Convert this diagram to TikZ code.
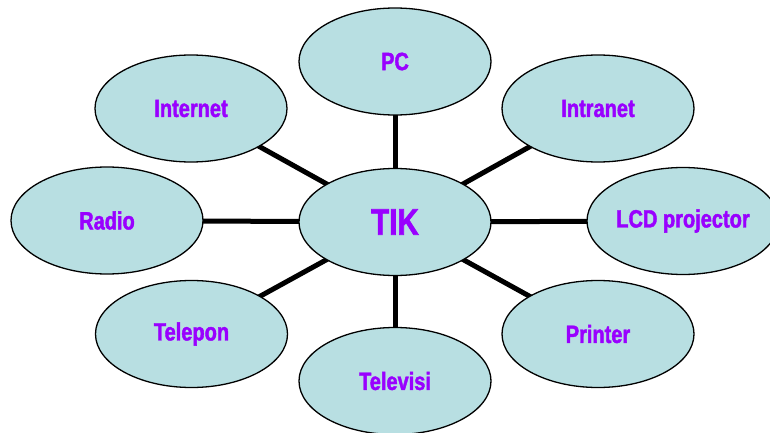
\documentclass[tikz,border=0pt]{standalone}
\usepackage{fontspec}
\setmainfont[FakeStretch=0.8, BoldFeatures={FakeBold=1.6}]{Liberation Sans}
\usetikzlibrary{shapes.geometric}
\definecolor{bubble}{HTML}{B8DFE2}
\definecolor{labelpurple}{HTML}{9900FF}
\tikzset{
  bubble/.style={ellipse, draw=black, line width=1.3pt, fill=bubble,
    minimum width=192pt, minimum height=107pt, inner sep=0pt,
    text=labelpurple, font=\fontsize{25}{29}\selectfont\bfseries},
  hub/.style={bubble, font=\fontsize{37}{42}\selectfont\bfseries},
  spoke/.style={line width=5pt, black}
}
\begin{document}
\begin{tikzpicture}[x=1pt,y=1pt]
\useasboundingbox (0,0) rectangle (770,432);
\coordinate (cTIK) at (395,210);
\coordinate (cPC) at (395,370.5);
\coordinate (cTV) at (395,51);
\coordinate (cInternet) at (191,323.5);
\coordinate (cIntranet) at (598,323.5);
\coordinate (cRadio) at (107,211.5);
\coordinate (cLCD) at (683,211);
\coordinate (cTelepon) at (191.5,98);
\coordinate (cPrinter) at (598,98);
\foreach \c in {cPC,cTV,cInternet,cIntranet,cRadio,cLCD,cTelepon,cPrinter}
  \draw[spoke] (cTIK) -- (\c);
\node[hub] (tik) at (cTIK) {TIK};
\node[bubble] (pc) at (cPC) {PC};
\node[bubble] (tv) at (cTV) {Televisi};
\node[bubble] (internet) at (cInternet) {Internet};
\node[bubble] (intranet) at (cIntranet) {Intranet};
\node[bubble] (radio) at (cRadio) {Radio};
\node[bubble] (lcd) at (cLCD) {LCD projector};
\node[bubble] (telepon) at (cTelepon) {Telepon};
\node[bubble] (printer) at (cPrinter) {Printer};
\end{tikzpicture}
\end{document}
